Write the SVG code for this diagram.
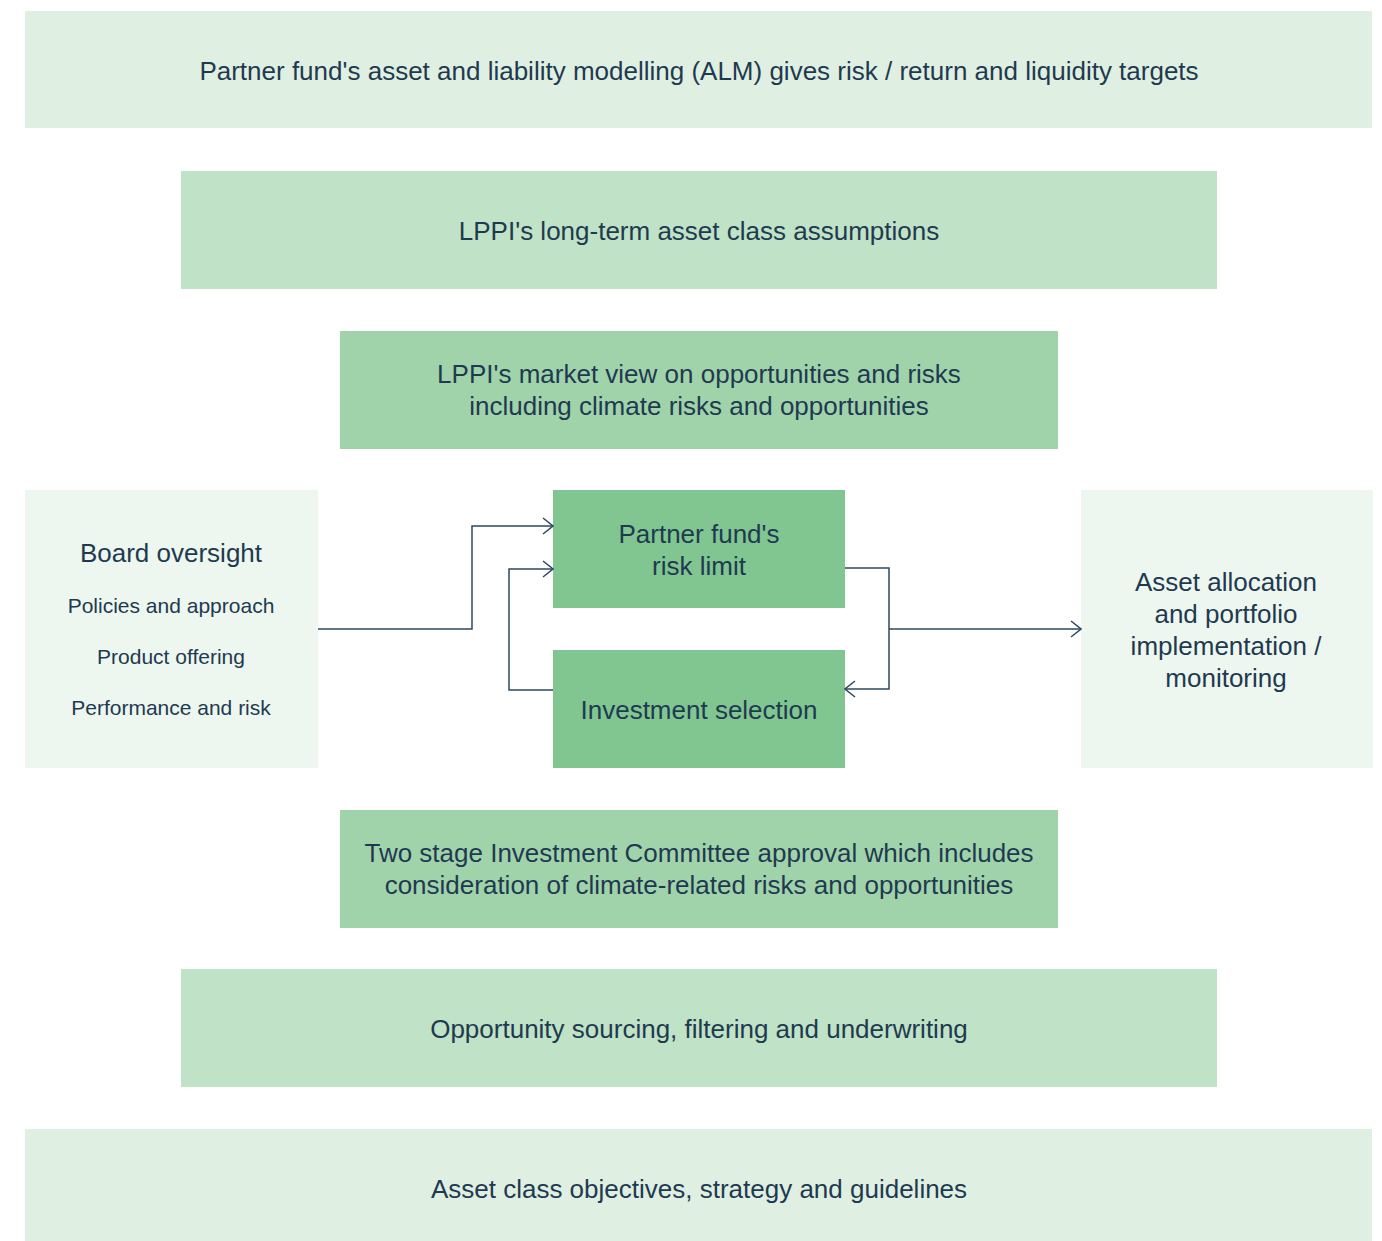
<svg xmlns="http://www.w3.org/2000/svg" width="1382" height="1241" viewBox="0 0 1382 1241">
<defs>
<style>
text{font-family:"Liberation Sans",Arial,sans-serif;fill:#1f3a50;text-anchor:middle;font-size:26px}
.s{font-size:21px}
.c1{fill:#dff0e2}.c2{fill:#c0e2c6}.c3{fill:#a1d3ab}.c4{fill:#81c690}.c0{fill:#edf7ef}
.ln{fill:none;stroke:#2d4a60;stroke-width:1.5}
</style>
<marker id="ah" viewBox="0 0 12 18" refX="11" refY="9" markerWidth="12" markerHeight="18" markerUnits="userSpaceOnUse" orient="auto">
<path d="M1,1 L11,9 L1,17" fill="none" stroke="#2d4a60" stroke-width="1.5"/>
</marker>
</defs>
<rect width="1382" height="1241" fill="#fff"/>
<g id="alm"><rect class="c1" x="25" y="11" width="1347" height="117"/><text x="699" y="80">Partner fund's asset and liability modelling (ALM) gives risk / return and liquidity targets</text></g>
<g id="assumptions"><rect class="c2" x="181" y="171" width="1036" height="118"/><text x="699" y="240">LPPI's long-term asset class assumptions</text></g>
<g id="marketview"><rect class="c3" x="340" y="331" width="718" height="118"/><text x="699" y="383">LPPI's market view on opportunities and risks</text><text x="699" y="415">including climate risks and opportunities</text></g>
<g id="board"><rect class="c0" x="25" y="490" width="293" height="278"/><text x="171" y="562">Board oversight</text><text class="s" x="171" y="613">Policies and approach</text><text class="s" x="171" y="664">Product offering</text><text class="s" x="171" y="715">Performance and risk</text></g>
<g id="risklimit"><rect class="c4" x="553" y="490" width="292" height="118"/><text x="699" y="543">Partner fund's</text><text x="699" y="575">risk limit</text></g>
<g id="selection"><rect class="c4" x="553" y="650" width="292" height="118"/><text x="699" y="719">Investment selection</text></g>
<g id="allocation"><rect class="c0" x="1081" y="490" width="292" height="278"/><text x="1226" y="591">Asset allocation</text><text x="1226" y="623">and portfolio</text><text x="1226" y="655">implementation /</text><text x="1226" y="687">monitoring</text></g>
<g id="committee"><rect class="c3" x="340" y="810" width="718" height="118"/><text x="699" y="862">Two stage Investment Committee approval which includes</text><text x="699" y="894">consideration of climate-related risks and opportunities</text></g>
<g id="sourcing"><rect class="c2" x="181" y="969" width="1036" height="118"/><text x="699" y="1038">Opportunity sourcing, filtering and underwriting</text></g>
<g id="objectives"><rect class="c1" x="25" y="1129" width="1347" height="112"/><text x="699" y="1198">Asset class objectives, strategy and guidelines</text></g>
<g id="connectors">
<path class="ln" d="M318,629 H472 V526 H553" marker-end="url(#ah)"/>
<path class="ln" d="M553,690 H509 V569 H553" marker-end="url(#ah)"/>
<path class="ln" d="M845,568 H889 V689 H845" marker-end="url(#ah)"/>
<path class="ln" d="M889,629 H1081" marker-end="url(#ah)"/>
</g>
</svg>
